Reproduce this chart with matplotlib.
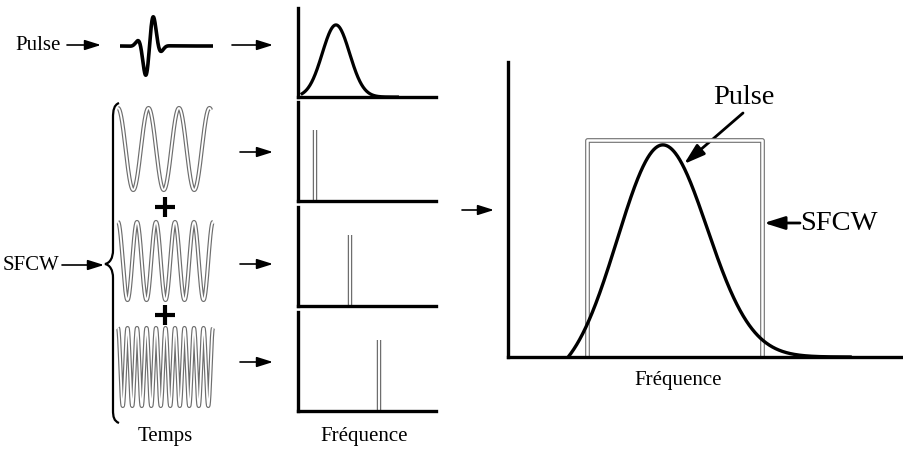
import numpy as np
import matplotlib
matplotlib.use("Agg")
import matplotlib.pyplot as plt
from matplotlib.path import Path
from matplotlib.patches import PathPatch

# figure size in pixels
W, H = 904, 450

# time-domain pulse (gaussian modulated sine)
pulse_center = 149.5
pulse_period = 18.0
pulse_width = 9.0
pulse_amp = 36.0

# SFCW tones: cycles shown in time window and position in the spectrum panels
tone_cycles = [3.05, 5.0, 10.0]
tone_pos = [0.125, 0.38, 0.59]
tone_height = [0.72, 0.72, 0.72]

# small pulse spectrum
spec_peak = 0.275
spec_sigma = 0.099
spec_height = 0.81

# combined spectrum (big panel)
big_peak = 0.391
big_sigma_left = 0.115
big_sigma_right = 0.112
big_height = 0.719
big_start, big_end = 0.152, 0.864
band = [0.2, 0.641]
band_height = 0.736

plt.rcParams['font.family'] = ['Liberation Serif', 'DejaVu Serif']

fig = plt.figure(figsize=(W / 100, H / 100), dpi=100)


def px_axes(x0, y0, x1, y1):
    return fig.add_axes([x0 / W, 1 - y1 / H, (x1 - x0) / W, (y1 - y0) / H])


def double_line(ax, x, y, outer=3.0, inner=1.4):
    ax.plot(x, y, color='#6e6e6e', lw=outer, clip_on=False, solid_capstyle='butt')
    ax.plot(x, y, color='white', lw=inner, clip_on=False, solid_capstyle='butt')


def panel(ax):
    for s in ['top', 'right']:
        ax.spines[s].set_visible(False)
    for s in ['left', 'bottom']:
        ax.spines[s].set_linewidth(2.4)
    ax.set_xticks([])
    ax.set_yticks([])
    ax.set_xlim(0, 1)
    ax.set_ylim(0, 1)
    ax.patch.set_alpha(0)


# overlay in pixel coords for labels and arrows
ov = fig.add_axes([0, 0, 1, 1])
ov.set_xlim(0, W)
ov.set_ylim(H, 0)
ov.axis('off')


def arrow(x0, y0, x1, y1, lw=1.2, ms=14):
    ov.annotate('', xy=(x1, y1), xytext=(x0, y0),
                arrowprops=dict(arrowstyle='-|>,head_length=0.7,head_width=0.22',
                                color='black', lw=lw, mutation_scale=ms,
                                shrinkA=0, shrinkB=0))


fs = 15
ov.text(38, 45, 'Pulse', fontsize=fs, ha='center', va='center')
arrow(67, 45, 101, 45)
arrow(232, 45, 273, 45)
ov.text(3, 265, 'SFCW', fontsize=fs, ha='left', va='center')
arrow(62, 265, 104, 265)
for yy in [152, 264, 362]:
    arrow(240, yy, 273, yy)
arrow(462, 210, 494, 210)
ov.text(165, 437, 'Temps', fontsize=fs, ha='center', va='center')
ov.text(364, 437, 'Fréquence', fontsize=fs, ha='center', va='center')
ov.text(678, 380, 'Fréquence', fontsize=fs, ha='center', va='center')
ov.text(744, 97, 'Pulse', fontsize=20.5, ha='center', va='center')
arrow(743, 113, 684, 164, lw=2.0, ms=18)
ov.text(800, 223, 'SFCW', fontsize=20.5, ha='left', va='center')
arrow(800, 223, 764, 223, lw=2.0, ms=18)

# plus signs between tones
ov.plot([165, 165], [207, 315], ls='none', marker='+', ms=14, mew=3.0, color='black')

# curly brace
verts = [(119, 103), (114, 105), (113, 110), (113, 118),
         (113, 250),
         (113, 258), (110, 263), (105, 264),
         (110, 265), (113, 270), (113, 278),
         (113, 410),
         (113, 417), (114, 421), (119, 423)]
codes = [Path.MOVETO, Path.CURVE4, Path.CURVE4, Path.CURVE4,
         Path.LINETO,
         Path.CURVE4, Path.CURVE4, Path.CURVE4,
         Path.CURVE4, Path.CURVE4, Path.CURVE4,
         Path.LINETO,
         Path.CURVE4, Path.CURVE4, Path.CURVE4]
ov.add_patch(PathPatch(Path(verts, codes), fill=False, lw=1.6, color='black'))

# time-domain pulse
ax = px_axes(120, 10, 213, 82)
t = np.linspace(120, 213, 600)
pulse = pulse_amp * np.sin(2 * np.pi * (t - pulse_center) / pulse_period) * \
    np.exp(-((t - pulse_center) / pulse_width) ** 2)
ax.plot(t, pulse, color='black', lw=2.6, solid_capstyle='butt')
ax.set_xlim(120, 213)
ax.set_ylim(-36, 36)
ax.axis('off')

# time-domain SFCW tones
wave_boxes = [(118, 108, 211, 190), (118, 222, 213, 300), (118, 328, 213, 406)]
for box, n in zip(wave_boxes, tone_cycles):
    ax = px_axes(*box)
    x = np.linspace(0, 1, 800)
    double_line(ax, x, np.cos(2 * np.pi * n * x), outer=3.0, inner=1.3)
    ax.set_xlim(0, 1)
    ax.set_ylim(-1, 1)
    ax.axis('off')

# spectrum panels
panel_boxes = [(298, 8, 436, 97), (298, 102, 436, 201), (298, 207, 436, 306), (298, 312, 436, 411)]
ax = px_axes(*panel_boxes[0])
panel(ax)
f = np.linspace(0.03, 0.72, 400)
ax.plot(f, spec_height * np.exp(-(f - spec_peak) ** 2 / (2 * spec_sigma ** 2)),
        color='black', lw=2.3)
for box, p, h in zip(panel_boxes[1:], tone_pos, tone_height):
    ax = px_axes(*box)
    panel(ax)
    double_line(ax, [p, p], [0, h], outer=3.2, inner=1.4)

# combined spectrum: left flank pulled down so it starts on the axis
ax = px_axes(508, 62, 904, 357)
panel(ax)
f = np.linspace(big_start, big_end, 800)
sig = np.where(f < big_peak, big_sigma_left, big_sigma_right)
g = np.exp(-(f - big_peak) ** 2 / (2 * sig ** 2))
g0 = np.exp(-(big_start - big_peak) ** 2 / (2 * big_sigma_left ** 2))
g = np.where(f < big_peak, (g - g0) / (1 - g0), g) * big_height
double_line(ax, [band[0], band[0], band[1], band[1]], [0, band_height, band_height, 0],
            outer=3.4, inner=1.8)
ax.plot(f, g, color='black', lw=2.4)

fig.savefig('out.png', dpi=100)
